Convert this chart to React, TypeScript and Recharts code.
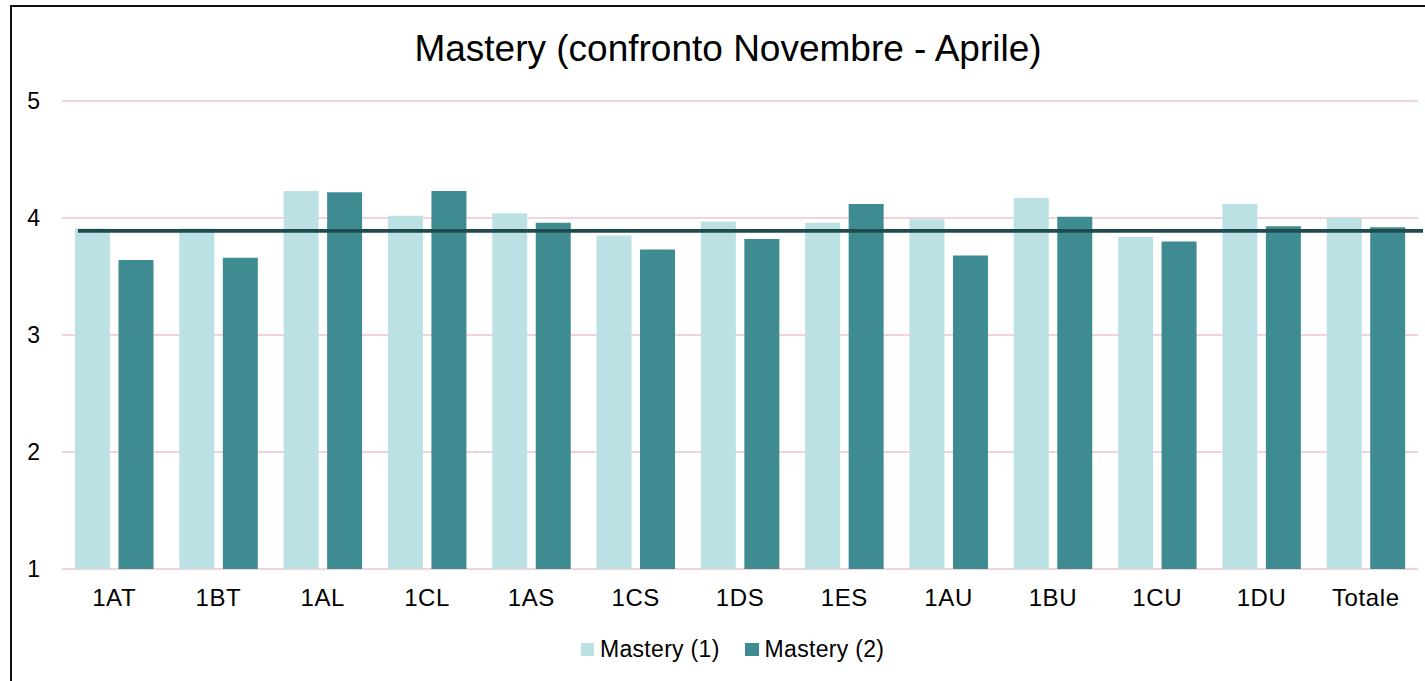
import { BarChart, Bar, XAxis, YAxis, CartesianGrid, ReferenceLine } from 'recharts'

const classes = ['1AT', '1BT', '1AL', '1CL', '1AS', '1CS', '1DS', '1ES', '1AU', '1BU', '1CU', '1DU', 'Totale']
const mastery1 = [3.91, 3.91, 4.23, 4.02, 4.04, 3.85, 3.97, 3.96, 3.99, 4.17, 3.84, 4.12, 4.0]
const mastery2 = [3.64, 3.66, 4.22, 4.23, 3.96, 3.73, 3.82, 4.12, 3.68, 4.01, 3.8, 3.93, 3.92]
const yTicks = [1, 2, 3, 4, 5]
const threshold = 3.89

const LIGHT = '#bce1e4'
const DARK = '#3e8c92'
const LINE = '#1f4b4e'
const FONT = '"Liberation Sans", Arial, sans-serif'

const data = classes.map((c, i) => ({ name: c, m1: mastery1[i], m2: mastery2[i] }))

function ThresholdLine(p: any) {
  // line in the original starts at the first bar, not at the plot edge
  return <line x1={p.x1 + 16} y1={p.y1} x2={p.x2 + 5} y2={p.y2} stroke={LINE} strokeWidth={3.8} />
}

export default function App() {
  return (
    <div style={{ position: 'absolute', left: 0, top: 0, width: 1425, height: 681, overflow: 'hidden', background: '#fff', fontFamily: FONT }}>
      <div style={{ position: 'absolute', left: 10, top: 5, width: 1500, height: 800, borderLeft: '2px solid #111', borderTop: '2px solid #111' }} />
      <div style={{ position: 'absolute', left: 0, width: 1456, top: 30, textAlign: 'center', fontSize: 37, lineHeight: '37px', color: '#000' }}>
        Mastery (confronto Novembre - Aprile)
      </div>
      <div style={{ position: 'absolute', left: 0, top: 0 }}>
        <BarChart width={1425} height={681} data={data} margin={{ top: 101, right: 7, bottom: 82, left: 10 }} barSize={35} barGap={8.5}>
          <CartesianGrid vertical={false} stroke="#f3d3db" strokeWidth={2} />
          <XAxis
            dataKey="name"
            height={30}
            axisLine={false}
            tickLine={false}
            tickSize={0}
            tickMargin={20}
            tick={{ fontSize: 24, fill: '#000', fontFamily: FONT, letterSpacing: 0.6 }}
          />
          <YAxis
            width={52}
            domain={[1, 5]}
            ticks={yTicks}
            axisLine={false}
            tickLine={false}
            tickSize={0}
            tickMargin={22}
            tick={{ fontSize: 23, fill: '#000', fontFamily: FONT }}
          />
          <Bar dataKey="m1" name="Mastery (1)" fill={LIGHT} isAnimationActive={false} />
          <Bar dataKey="m2" name="Mastery (2)" fill={DARK} isAnimationActive={false} />
          <ReferenceLine y={threshold} shape={ThresholdLine} />
        </BarChart>
      </div>
      <div style={{ position: 'absolute', left: 581, top: 636, display: 'flex', alignItems: 'center', fontSize: 23, lineHeight: '26px', color: '#000', letterSpacing: 0.3 }}>
        <span style={{ width: 13, height: 13, background: LIGHT, marginRight: 6 }} />
        <span>Mastery (1)</span>
        <span style={{ width: 14, height: 13, background: DARK, marginLeft: 25, marginRight: 6 }} />
        <span>Mastery (2)</span>
      </div>
    </div>
  )
}
